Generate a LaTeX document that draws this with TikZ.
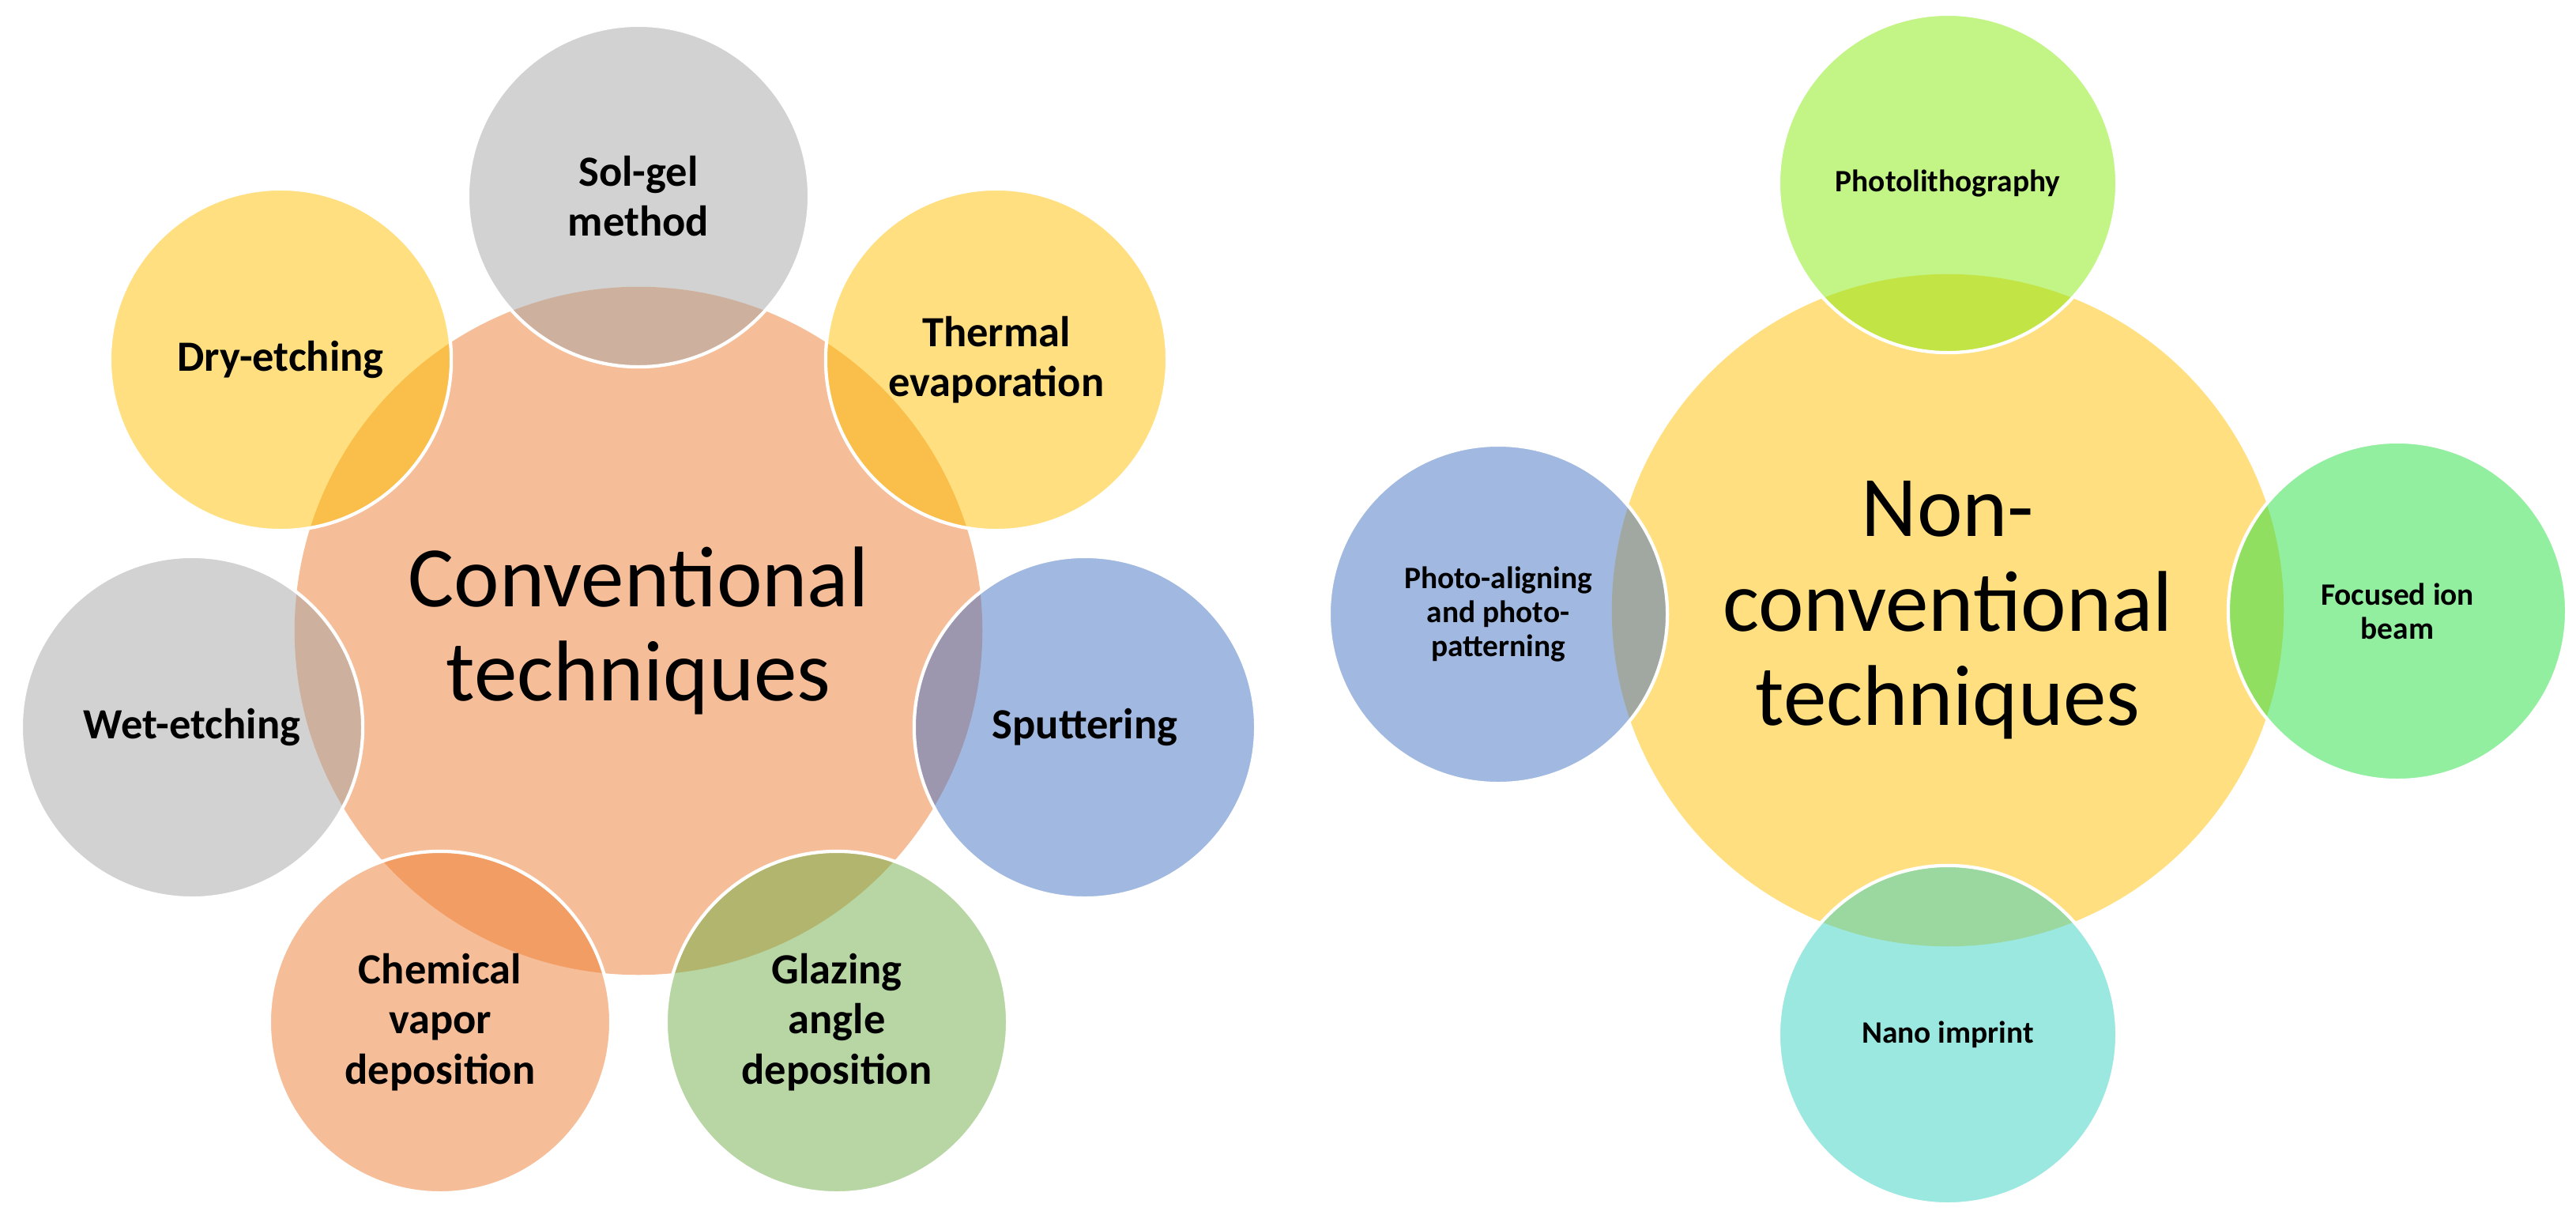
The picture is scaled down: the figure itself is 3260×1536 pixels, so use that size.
\documentclass[tikz,border=0pt]{standalone}
\usepackage{fontspec}
\setmainfont{Carlito}
\usepackage{tikz}
\usetikzlibrary{positioning}
\definecolor{offorange}{HTML}{ED7D31}
\definecolor{offgray}{HTML}{A5A5A5}
\definecolor{offyellow}{HTML}{FFC000}
\definecolor{offblue}{HTML}{4472C4}
\definecolor{offgreen}{HTML}{70AD47}
\definecolor{limegreen}{HTML}{86EB0C}
\definecolor{mintgreen}{HTML}{25DF42}
\definecolor{aquablue}{HTML}{36D1C1}

\begin{document}
\begin{tikzpicture}[
  x=0.01cm,y=-0.01cm,
  hub/.style={circle,inner sep=0pt,fill opacity=0.5,text opacity=1,align=center,font=\fontsize{31}{34}\selectfont},
  petal/.style={circle,minimum size=4.32cm,inner sep=0pt,draw=white,line width=1.2pt,fill opacity=0.5,text opacity=1,align=center,font=\fontsize{15.5}{18}\selectfont\bfseries},
  smallpetal/.style={petal,minimum size=4.28cm,font=\fontsize{11.2}{12.3}\selectfont\bfseries}
]
\useasboundingbox (0,0) rectangle (3260,1536);
% conventional
\node[hub,minimum size=8.7cm,fill=offorange] (conv) at (808,798) {Conventional\\techniques};
\node[petal,fill=offgray] (solgel) at (808,248) {Sol-gel\\method};
\node[petal,fill=offyellow] (thermal) at (1261,455) {Thermal\\evaporation};
\node[petal,fill=offblue] (sputter) at (1373,920) {Sputtering};
\node[petal,fill=offgreen] (glancing) at (1059,1293) {Glazing\\angle\\deposition};
\node[petal,fill=offorange] (cvd) at (557,1293) {Chemical\\vapor\\deposition};
\node[petal,fill=offgray] (wet) at (243,920) {Wet-etching};
\node[petal,fill=offyellow] (dry) at (355,455) {Dry-etching};
% non-conventional
\node[hub,minimum size=8.5cm,fill=offyellow] (nonconv) at (2465,772) {Non-\\conventional\\techniques};
\node[smallpetal,fill=limegreen] (litho) at (2465,232) {Photolithography};
\node[smallpetal,fill=mintgreen] (fib) at (3034,773) {Focused ion\\beam};
\node[smallpetal,fill=aquablue] (imprint) at (2465,1309) {Nano imprint};
\node[smallpetal,fill=offblue] (photoalign) at (1896,777) {Photo-aligning\\and photo-\\patterning};
\end{tikzpicture}
\end{document}
